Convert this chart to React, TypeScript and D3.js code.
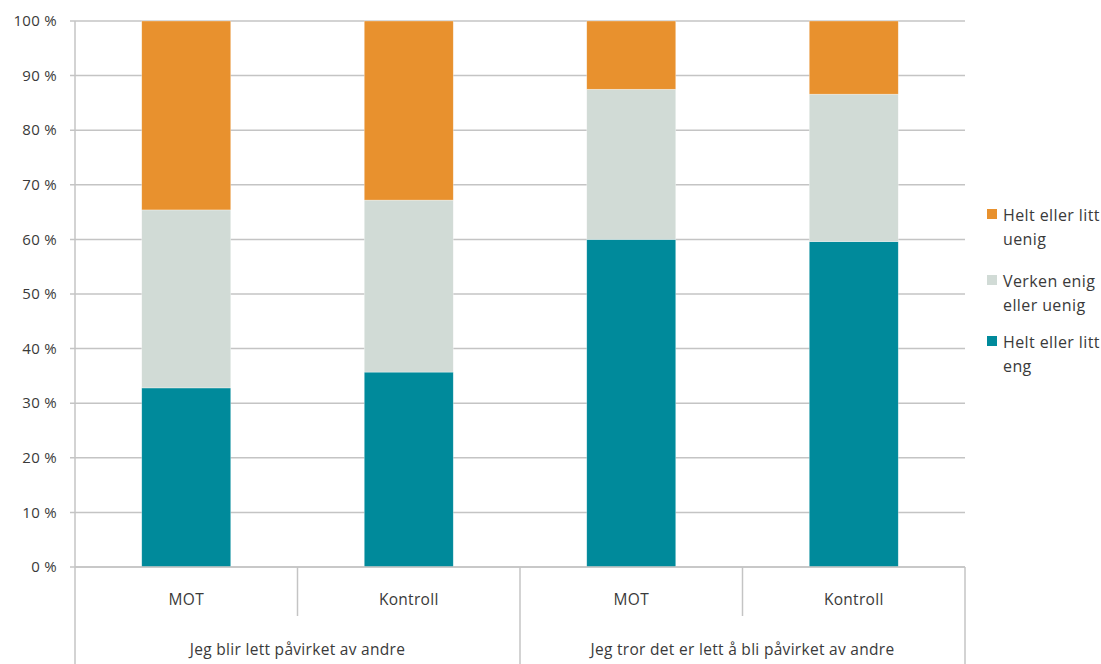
import React from "react";
import * as d3 from "d3";

const categories = ["MOT", "Kontroll", "MOT", "Kontroll"];
const groups = ["Jeg blir lett påvirket av andre", "Jeg tror det er lett å bli påvirket av andre"];
const seriesNames = ["Helt eller litt eng", "Verken enig eller uenig", "Helt eller litt uenig"];
const enig = [32.8, 35.7, 60.0, 59.6];
const verken = [32.6, 31.5, 27.5, 27.0];
const uenig = [34.6, 32.8, 12.5, 13.4];
const yTicks = [0, 10, 20, 30, 40, 50, 60, 70, 80, 90, 100];
const colors = ["#008A9B", "#D1DBD6", "#E8912E"];
const legendLines = [["Helt eller litt", "uenig"], ["Verken enig", "eller uenig"], ["Helt eller litt", "eng"]];

export default function App() {
  const W = 1101, H = 664;
  const left = 75, right = 965, top = 21, bottom = 567;
  const x = d3.scaleBand<number>().domain(d3.range(categories.length)).range([left, right]).padding(0);
  const y = d3.scaleLinear().domain([0, 100]).range([bottom, top]);
  const rows = categories.map((c, i) => ({ i, v0: enig[i], v1: verken[i], v2: uenig[i] }));
  const stack = d3.stack<any>().keys(["v0", "v1", "v2"])(rows);
  const bw = x.bandwidth() * 0.4;
  const font = "'Open Sans', 'Liberation Sans', sans-serif";
  const txt = "#3a3a3a";
  const grid = "#c4c4c4";
  return (
    <svg width={W} height={H} style={{ position: "absolute", left: 0, top: 0, background: "#fff" }} fontFamily={font}>
      {yTicks.map((t) => (
        <g key={t}>
          <line x1={left - 5} x2={right} y1={y(t)} y2={y(t)} stroke={grid} strokeWidth={1.5} />
          <text x={57} y={y(t)} dy="0.35em" textAnchor="end" fontSize={15} letterSpacing={0.3} fill={txt}>{t} %</text>
        </g>
      ))}
      {stack.map((s, si) =>
        s.map((d, i) => (
          <rect key={si + "-" + i} x={x(i)! + (x.bandwidth() - bw) / 2} width={bw} y={y(d[1])} height={y(d[0]) - y(d[1])} fill={colors[si]} stroke="#ffffff" strokeOpacity={0.5} strokeWidth={0.6} />
        ))
      )}
      <line x1={left} x2={left} y1={top} y2={H} stroke={grid} strokeWidth={1.5} />
      <line x1={left} x2={right} y1={bottom} y2={bottom} stroke={grid} strokeWidth={1.5} />
      {categories.map((c, i) => (
        <text key={i} x={x(i)! + x.bandwidth() / 2} y={600} dy="0.35em" textAnchor="middle" fontSize={15.5} letterSpacing={0.3} fill={txt}>{c}</text>
      ))}
      {[1, 3].map((i) => (
        <line key={i} x1={x(i)!} x2={x(i)!} y1={bottom} y2={616} stroke={grid} strokeWidth={1.5} />
      ))}
      {[2, 4].map((i) => {
        const xx = i < 4 ? x(i)! : right;
        return <line key={i} x1={xx} x2={xx} y1={bottom} y2={H} stroke={grid} strokeWidth={1.5} />;
      })}
      {groups.map((g, gi) => (
        <text key={gi} x={x(gi * 2)! + x.bandwidth()} y={650} dy="0.35em" textAnchor="middle" fontSize={15.5} letterSpacing={0.3} fill={txt}>{g}</text>
      ))}
      {legendLines.map((ls, li) => {
        const ys = [215, 281, 342][li];
        return (
          <g key={li}>
            <rect x={987} y={ys - 6} width={10} height={10} fill={colors[2 - li]} />
            {ls.map((l, k) => (
              <text key={k} x={1003} y={ys + k * 24} dy="0.35em" fontSize={16} letterSpacing={0.4} fill={txt}>{l}</text>
            ))}
          </g>
        );
      })}
    </svg>
  );
}
